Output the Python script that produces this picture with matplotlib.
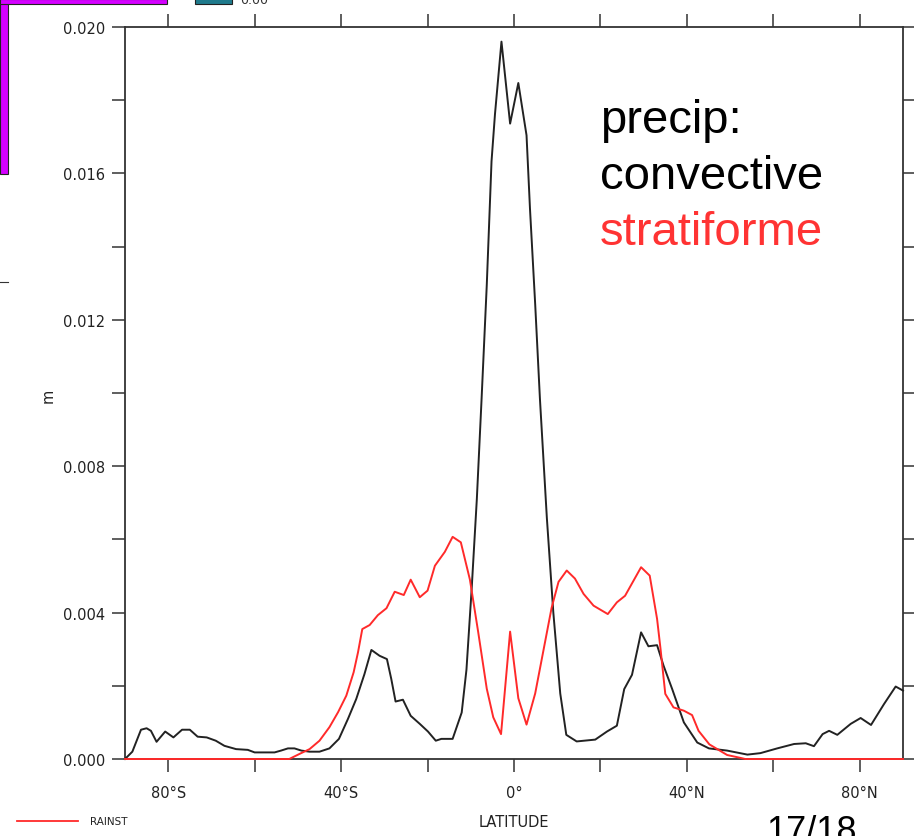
# plot.py - zonal mean precip: convective vs stratiforme
import matplotlib.pyplot as plt
from matplotlib.patches import Rectangle

# convective precip (black)
lat_conv = [-90, -88.3, -86.3, -85, -84, -82.7, -80.7, -78.8, -76.8, -75, -73.2, -71.1,
            -69, -67, -64.3, -61.6, -60, -57.3, -55.4, -53.9, -52.3, -50.8, -49.2, -47.3,
            -45, -42.7, -40.5, -38.4, -36.5, -34.6, -33, -31.1, -29.4, -28.4, -27.4, -25.7,
            -23.9, -21.8, -19.9, -18.1, -16.8, -14.2, -12.1, -11, -9.8, -8.6, -7.5, -6.3,
            -5.2, -4.4, -2.9, -0.9, 1.0, 2.9, 3.7, 4.9, 6.0, 7.6, 9.1, 10.7, 12.1, 14.5,
            18.8, 21.5, 23.8, 25.5, 27.3, 29.4, 31.1, 33.1, 34.6, 36.6, 39.3, 42.4, 45.1,
            49.3, 54, 57, 60.9, 64.8, 67.5, 69.4, 71.4, 72.9, 74.8, 77.9, 80.2, 82.6, 85.6,
            88.3, 90]
conv = [0.0, 0.0002, 0.0008, 0.00084, 0.00077, 0.00047, 0.00075, 0.00059, 0.0008, 0.0008,
        0.00061, 0.00059, 0.0005, 0.00036, 0.00027, 0.00025, 0.00018, 0.00018, 0.00018,
        0.00023, 0.00029, 0.00029, 0.00023, 0.0002, 0.0002, 0.00029, 0.00055, 0.0011,
        0.00164, 0.00232, 0.00298, 0.00282, 0.00273, 0.00219, 0.00157, 0.00162, 0.00118,
        0.00096, 0.00075, 0.0005, 0.00055, 0.00055, 0.00127, 0.00244, 0.00464, 0.0071,
        0.00984, 0.01295, 0.01633, 0.01762, 0.0196, 0.01736, 0.01847, 0.01704, 0.01503,
        0.01243, 0.00984, 0.00659, 0.004, 0.00179, 0.00066, 0.00048, 0.00053, 0.00075,
        0.00091, 0.00191, 0.0023, 0.00346, 0.00308, 0.00311, 0.00255, 0.00191, 0.001,
        0.00045, 0.00029, 0.00023, 0.00012, 0.00016, 0.00029, 0.00041, 0.00043, 0.00035,
        0.00068, 0.00077, 0.00066, 0.00096, 0.00112, 0.00093, 0.0015, 0.00198, 0.00187]

# stratiform precip (red)
lat_strat = [-90, -52, -49.6, -47.3, -45, -42.7, -40.7, -38.8, -37.1, -36.1, -35.1, -33.4,
             -31.5, -29.5, -27.6, -25.5, -23.9, -21.8, -20, -18.3, -16, -14.2, -12.3, -10.2,
             -8.3, -6.3, -4.8, -3, -0.9, 1.0, 2.9, 4.9, 6.8, 8.7, 10.3, 12.2, 14.1, 16.1,
             18.4, 21.7, 23.8, 25.7, 29.4, 31.4, 33.1, 33.9, 35, 36.9, 39.3, 41.2, 42.7,
             45.2, 49.3, 52.4, 53.5, 90]
strat = [0.0, 0.0, 0.00014, 0.00027, 0.0005, 0.00087, 0.00128, 0.00173, 0.00237, 0.00291,
         0.00355, 0.00366, 0.00393, 0.00412, 0.00457, 0.00448, 0.0049, 0.00442, 0.0046,
         0.00528, 0.00566, 0.00607, 0.00592, 0.0049, 0.00348, 0.00192, 0.00114, 0.00068,
         0.00348, 0.00166, 0.00094, 0.00179, 0.00296, 0.00413, 0.00484, 0.00515, 0.00493,
         0.00451, 0.00419, 0.00396, 0.00428, 0.00446, 0.00524, 0.00501, 0.00383, 0.00301,
         0.00178, 0.00141, 0.00132, 0.0012, 0.00077, 0.0004, 0.00011, 0.00003, 0.0, 0.0]

xticks_major = [-80, -40, 0, 40, 80]
xtick_labels = ["80\u00b0S", "40\u00b0S", "0\u00b0", "40\u00b0N", "80\u00b0N"]
xticks_minor = [-60, -20, 20, 60]
yticks_major = [0.0, 0.004, 0.008, 0.012, 0.016, 0.020]
yticks_minor = [0.002, 0.006, 0.010, 0.014, 0.018]

W, H = 914, 837
fig = plt.figure(figsize=(W / 100, H / 100), dpi=100)
ax = fig.add_axes([125 / W, (H - 760) / H, (903 - 125) / W, (760 - 28) / H])

ax.plot(lat_conv, conv, color="#222222", linewidth=1.4, zorder=3, clip_on=False)
ax.plot(lat_strat, strat, color="#ff2a2a", linewidth=1.4, zorder=4, clip_on=False)

ax.set_xlim(-90, 90)
ax.set_ylim(0, 0.020)
ax.set_xticks(xticks_major)
ax.set_xticklabels(xtick_labels)
ax.set_xticks(xticks_minor, minor=True)
ax.set_yticks(yticks_major)
ax.set_yticklabels(["%.3f" % v for v in yticks_major])
ax.set_yticks(yticks_minor, minor=True)

for s in ax.spines.values():
    s.set_color("#333333")
    s.set_linewidth(1.3)
ax.tick_params(which="both", direction="out", length=9.5, width=1.1, color="#333333",
               top=True, right=True, labelsize=10.5, labelcolor="#222222")
ax.tick_params(axis="x", pad=9)
ax.tick_params(axis="y", pad=5)
ax.set_xlabel("LATITUDE", fontsize=10.5, color="#222222", labelpad=10)

# y label placed by hand, as in the original
fig.text(48 / W, 1 - 396 / H, "m", fontsize=10.5, color="#222222", rotation=90,
         ha="center", va="center")

# annotation text
fig.text(600 / W, 1 - 133 / H, "precip:", fontsize=34, family="Liberation Sans",
         color="black", va="baseline")
fig.text(600 / W, 1 - 189 / H, "convective", fontsize=34, family="Liberation Sans",
         color="black", va="baseline")
fig.text(600 / W, 1 - 245 / H, "stratiforme", fontsize=34, family="Liberation Sans",
         color="#ff3333", va="baseline")

# legend fragment at the bottom
fig.add_artist(plt.Line2D([17 / W, 78 / W], [1 - 822 / H, 1 - 822 / H],
                          color="#ff2a2a", linewidth=1.3))
fig.text(90 / W, 1 - 822 / H, "RAINST", fontsize=7.5, color="#222222", va="center")

# slide page number, cut off at the bottom
fig.text(766 / W, 1 - 815 / H, "17/18", fontsize=26, family="Liberation Sans",
         color="black", va="top")

# bits of the slide around the plot
fig.add_artist(Rectangle((0, 1 - 175 / H), 8 / W, 175 / H, transform=fig.transFigure,
                         facecolor="#d400ff", edgecolor="#222222", linewidth=0.8))
fig.add_artist(Rectangle((0, 1 - 5 / H), 167 / W, 5 / H, transform=fig.transFigure,
                         facecolor="#d400ff", edgecolor="#222222", linewidth=0.8))
fig.add_artist(Rectangle((195 / W, 1 - 5 / H), 37 / W, 8 / H, transform=fig.transFigure,
                         facecolor="#1f7a8c", edgecolor="#222222", linewidth=0.8))
fig.text(240 / W, 1 - 0.5 / H, "0.00", fontsize=9, color="#333333", va="center")
fig.add_artist(plt.Line2D([0, 8 / W], [1 - 283 / H, 1 - 283 / H],
                          color="#333333", linewidth=0.8))

fig.savefig("out.png", dpi=100)
